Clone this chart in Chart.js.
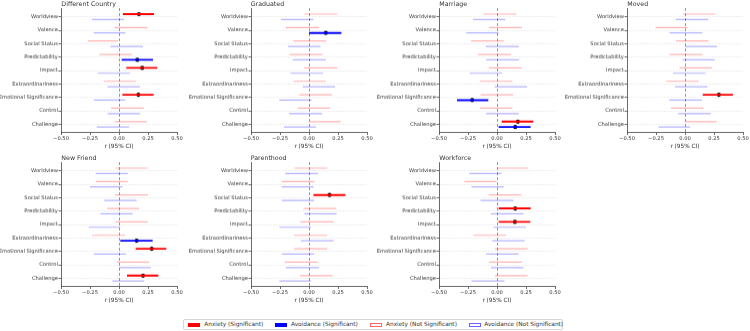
<!DOCTYPE html>
<html>
<head>
<meta charset="utf-8">
<script src="https://cdn.jsdelivr.net/npm/chart.js@4"></script>
<style>
  html, body { margin: 0; padding: 0; background: #fff; }
  body { width: 750px; height: 331px; position: relative; overflow: hidden; font-family: 'DejaVu Sans', sans-serif; }
  .panel { position: absolute; }
  .ptitle { position: absolute; font-size: 6.3px; color: #333; white-space: nowrap; line-height: 1; }
  .legend { position: absolute; left: 183px; top: 318.5px; width: 380px; height: 11px; border: 0.8px solid #d6d6d6; border-radius: 2px; box-sizing: border-box; background: #fff; }
  .lg-sw { position: absolute; top: 3.3px; width: 12px; height: 4.5px; box-sizing: border-box; }
  .lg-tx { position: absolute; top: 2.2px; font-size: 5.8px; color: #333; white-space: nowrap; line-height: 1; }
</style>
</head>
<body>
<script>
// ---------------- DATA ----------------
const categories = ['Worldview', 'Valence', 'Social Status', 'Predictability', 'Impact', 'Extraordinariness', 'Emotional Significance', 'Control', 'Challenge'];
const panelTitles = ['Different Country', 'Graduated', 'Marriage', 'Moved', 'New Friend', 'Parenthood', 'Workforce'];
const xTickValues = [-0.5, -0.25, 0, 0.25, 0.5];
const xAxisLabel = 'r (95% CI)';
const legendLabels = ['Anxiety (Significant)', 'Avoidance (Significant)', 'Anxiety (Not Significant)', 'Avoidance (Not Significant)'];

// Different Country
const diffCountryAnxEst = [0.172, null, null, null, 0.200, null, 0.167, null, null];
const diffCountryAnxLo  = [0.034, -0.037, -0.267, -0.170, 0.063, -0.132, 0.029, -0.069, -0.037];
const diffCountryAnxHi  = [0.302, 0.244, -0.009, 0.112, 0.330, 0.149, 0.299, 0.213, 0.239];
const diffCountryAvoEst = [null, null, null, 0.158, null, null, null, null, null];
const diffCountryAvoLo  = [-0.233, -0.218, -0.075, 0.023, -0.184, -0.098, -0.218, -0.098, -0.193];
const diffCountryAvoHi  = [0.043, 0.055, 0.207, 0.293, 0.095, 0.181, 0.055, 0.181, 0.086];

// Graduated
const graduatedAnxEst = [null, null, null, null, null, null, null, null, null];
const graduatedAnxLo  = [-0.041, -0.200, -0.134, -0.169, -0.041, -0.134, -0.081, -0.096, 0.000];
const graduatedAnxHi  = [0.244, 0.087, 0.148, 0.116, 0.244, 0.145, 0.200, 0.183, 0.273];
const graduatedAvoEst = [null, 0.145, null, null, null, null, null, null, null];
const graduatedAvoLo  = [-0.241, 0.000, -0.180, -0.140, -0.160, -0.055, -0.256, -0.172, -0.215];
const graduatedAvoHi  = [0.038, 0.279, 0.099, 0.145, 0.122, 0.224, 0.023, 0.113, 0.061];

// Marriage
const marriageAnxEst = [null, null, null, null, null, null, null, null, 0.180];
const marriageAnxLo  = [-0.116, -0.070, -0.223, -0.165, -0.072, -0.148, -0.142, -0.148, 0.041];
const marriageAnxHi  = [0.168, 0.214, 0.058, 0.119, 0.212, 0.133, 0.139, 0.133, 0.313];
const marriageAvoEst = [null, null, null, null, null, null, -0.214, null, 0.157];
const marriageAvoLo  = [-0.206, -0.264, -0.096, -0.093, -0.235, -0.020, -0.345, -0.093, 0.014];
const marriageAvoHi  = [0.072, 0.014, 0.188, 0.191, 0.043, 0.258, -0.075, 0.188, 0.290];

// Moved
const movedAnxEst = [null, null, null, null, null, null, 0.292, null, null];
const movedAnxLo  = [-0.017, -0.254, -0.078, -0.133, -0.046, -0.162, 0.153, -0.121, 0.000];
const movedAnxHi  = [0.260, 0.023, 0.202, 0.150, 0.231, 0.118, 0.413, 0.159, 0.272];
const movedAvoEst = [null, null, null, null, null, null, null, null, null];
const movedAvoLo  = [-0.081, -0.133, 0.000, -0.020, -0.104, -0.087, -0.136, -0.058, -0.228];
const movedAvoHi  = [0.202, 0.150, 0.275, 0.257, 0.176, 0.194, 0.145, 0.223, 0.046];

// New Friend
const newFriendAnxEst = [null, null, null, null, null, null, 0.282, null, 0.207];
const newFriendAnxLo  = [-0.029, -0.201, -0.034, -0.103, -0.029, -0.230, 0.144, -0.017, 0.069];
const newFriendAnxHi  = [0.247, 0.075, 0.247, 0.175, 0.247, 0.052, 0.408, 0.259, 0.339];
const newFriendAvoEst = [null, null, null, null, null, 0.152, null, null, null];
const newFriendAvoLo  = [-0.201, -0.250, -0.126, -0.161, -0.261, 0.011, -0.216, 0.000, -0.057];
const newFriendAvoHi  = [0.075, 0.029, 0.152, 0.118, 0.011, 0.290, 0.060, 0.273, 0.218];

// Parenthood
const parenthoodAnxEst = [null, null, 0.177, null, null, null, null, null, null];
const parenthoodAnxLo  = [-0.125, -0.235, 0.038, -0.047, -0.073, -0.128, -0.128, -0.209, -0.078];
const parenthoodAnxHi  = [0.157, 0.047, 0.314, 0.235, 0.209, 0.157, 0.157, 0.073, 0.203];
const parenthoodAvoEst = [null, null, null, null, null, null, null, null, null];
const parenthoodAvoLo  = [-0.206, -0.235, -0.235, -0.041, -0.256, -0.070, -0.235, -0.198, -0.256];
const parenthoodAvoHi  = [0.078, 0.041, 0.044, 0.238, 0.017, 0.212, 0.044, 0.087, 0.017];

// Workforce
const workforceAnxEst = [null, null, null, 0.157, 0.154, null, null, null, null];
const workforceAnxLo  = [0.000, -0.281, -0.072, 0.014, 0.014, -0.203, -0.017, -0.070, -0.017];
const workforceAnxHi  = [0.270, -0.003, 0.209, 0.290, 0.287, 0.078, 0.264, 0.214, 0.264];
const workforceAvoEst = [null, null, null, null, null, null, null, null, null];
const workforceAvoLo  = [-0.240, -0.220, -0.142, -0.052, -0.029, -0.041, -0.093, -0.052, -0.220];
const workforceAvoHi  = [0.038, 0.058, 0.142, 0.229, 0.249, 0.238, 0.188, 0.229, 0.064];

// ---------------- BUILD ----------------
const panelData = [
  [diffCountryAnxEst, diffCountryAnxLo, diffCountryAnxHi, diffCountryAvoEst, diffCountryAvoLo, diffCountryAvoHi],
  [graduatedAnxEst, graduatedAnxLo, graduatedAnxHi, graduatedAvoEst, graduatedAvoLo, graduatedAvoHi],
  [marriageAnxEst, marriageAnxLo, marriageAnxHi, marriageAvoEst, marriageAvoLo, marriageAvoHi],
  [movedAnxEst, movedAnxLo, movedAnxHi, movedAvoEst, movedAvoLo, movedAvoHi],
  [newFriendAnxEst, newFriendAnxLo, newFriendAnxHi, newFriendAvoEst, newFriendAvoLo, newFriendAvoHi],
  [parenthoodAnxEst, parenthoodAnxLo, parenthoodAnxHi, parenthoodAvoEst, parenthoodAvoLo, parenthoodAvoHi],
  [workforceAnxEst, workforceAnxLo, workforceAnxHi, workforceAvoEst, workforceAvoLo, workforceAvoHi]
];

// layout: pixel position of x = 0 in each panel, row tops
const zeroX = [119.3, 308.7, 497.3, 685.3, 119.3, 308.7, 497.3];
const rowTops = [0, 154];
const PLOT_W = 116, Y_AXIS_W = 62, RIGHT_PAD = 7, TOP_PAD = 8, PLOT_H = 123.5, X_AXIS_H = 18;
const ANX_OFF = -0.2, AVO_OFF = 0.2;

Chart.defaults.font.family = "'DejaVu Sans', sans-serif";
Chart.defaults.color = '#333';

function segments(lo, hi, est, wantSig, off) {
  const pts = [];
  lo.forEach((l, i) => {
    const sig = est[i] !== null;
    if (sig === wantSig) {
      pts.push({ x: l, y: i + off }, { x: hi[i], y: i + off }, { x: null, y: null });
    }
  });
  return pts;
}
function markers(est, off) {
  const pts = [];
  est.forEach((e, i) => { if (e !== null) pts.push({ x: e, y: i + off }); });
  return pts;
}
const fmt = v => (v < 0 ? '\u2212' : '') + Math.abs(v).toFixed(2);

panelData.forEach((d, p) => {
  const [anxEst, anxLo, anxHi, avoEst, avoLo, avoHi] = d;
  const top = rowTops[p < 4 ? 0 : 1];
  const plotLeft = zeroX[p] - PLOT_W / 2;

  const wrap = document.createElement('div');
  wrap.className = 'panel';
  wrap.style.left = (plotLeft - Y_AXIS_W) + 'px';
  wrap.style.top = top + 'px';
  const W = Y_AXIS_W + PLOT_W + RIGHT_PAD, H = TOP_PAD + PLOT_H + X_AXIS_H;
  wrap.style.width = W + 'px';
  wrap.style.height = H + 'px';
  const cv = document.createElement('canvas');
  wrap.appendChild(cv);
  document.body.appendChild(wrap);

  const t = document.createElement('div');
  t.className = 'ptitle';
  t.textContent = panelTitles[p];
  t.style.left = plotLeft + 'px';
  t.style.top = (top + 1) + 'px';
  document.body.appendChild(t);

  new Chart(cv, {
    type: 'scatter',
    data: {
      datasets: [
        { data: segments(anxLo, anxHi, anxEst, false, ANX_OFF), showLine: true, borderColor: 'rgba(255,0,0,0.3)', borderWidth: 1.2, pointRadius: 0, spanGaps: false },
        { data: segments(avoLo, avoHi, avoEst, false, AVO_OFF), showLine: true, borderColor: 'rgba(0,0,255,0.3)', borderWidth: 1.2, pointRadius: 0, spanGaps: false },
        { data: segments(anxLo, anxHi, anxEst, true, ANX_OFF), showLine: true, borderColor: '#ff0000', borderWidth: 1.9, pointRadius: 0, spanGaps: false },
        { data: segments(avoLo, avoHi, avoEst, true, AVO_OFF), showLine: true, borderColor: '#0000ff', borderWidth: 1.9, pointRadius: 0, spanGaps: false },
        { data: markers(anxEst, ANX_OFF).concat(markers(avoEst, AVO_OFF)), showLine: false, pointRadius: 2.1, pointBackgroundColor: '#000', pointBorderColor: '#000', pointBorderWidth: 0 }
      ]
    },
    options: {
      responsive: true,
      maintainAspectRatio: false,
      animation: false,
      events: [],
      layout: { padding: { top: TOP_PAD, right: RIGHT_PAD, left: 0, bottom: 0 } },
      plugins: { legend: { display: false }, tooltip: { enabled: false }, title: { display: false } },
      scales: {
        x: {
          type: 'linear', min: -0.5, max: 0.5,
          afterBuildTicks: s => { s.ticks = xTickValues.map(v => ({ value: v })); },
          afterFit: s => { s.height = X_AXIS_H; },
          ticks: { callback: v => fmt(v), font: { size: 5.2 }, padding: 1, color: '#333', autoSkip: false, maxRotation: 0 },
          grid: {
            color: c => (c.tick && c.tick.value === 0) ? 'rgba(0,0,0,0.45)' : 'rgba(0,0,0,0)',
            lineWidth: 0.9, tickColor: '#444', tickLength: 2.5, tickWidth: 0.8
          },
          border: { display: true, color: '#444', width: 0.8, dash: [3, 2] },
          title: { display: true, text: xAxisLabel, font: { size: 5.8 }, color: '#333', padding: { top: 0, bottom: 0.5 } }
        },
        y: {
          type: 'linear', min: -0.65, max: 8.6, reverse: true,
          afterBuildTicks: s => { s.ticks = categories.map((_, i) => ({ value: i })); },
          afterFit: s => { s.width = Y_AXIS_W; },
          ticks: { callback: v => categories[v], font: { size: 5.2 }, padding: 0.6, color: '#333', autoSkip: false },
          grid: { color: 'rgba(0,0,0,0.1)', lineWidth: 0.8, tickColor: '#444', tickLength: 2.5, tickWidth: 0.8 },
          border: { display: true, color: '#444', width: 0.8, dash: [2, 1] }
        }
      }
    }
  });
});

// ---------------- LEGEND ----------------
const lg = document.createElement('div');
lg.className = 'legend';
document.body.appendChild(lg);
const swLeft = [3.7, 90.7, 186, 284.7];
const txLeft = [20.3, 107, 202, 300.3];
const swStyles = [
  'background:#ff0000;',
  'background:#0000ff;',
  'background:#fff;border:1px solid rgba(255,0,0,0.6);',
  'background:#fff;border:1px solid rgba(0,0,255,0.6);'
];
legendLabels.forEach((lab, i) => {
  const sw = document.createElement('div');
  sw.className = 'lg-sw';
  sw.style.cssText += 'left:' + swLeft[i] + 'px;' + swStyles[i];
  lg.appendChild(sw);
  const tx = document.createElement('div');
  tx.className = 'lg-tx';
  tx.style.left = txLeft[i] + 'px';
  tx.textContent = lab;
  lg.appendChild(tx);
});
</script>
</body>
</html>
